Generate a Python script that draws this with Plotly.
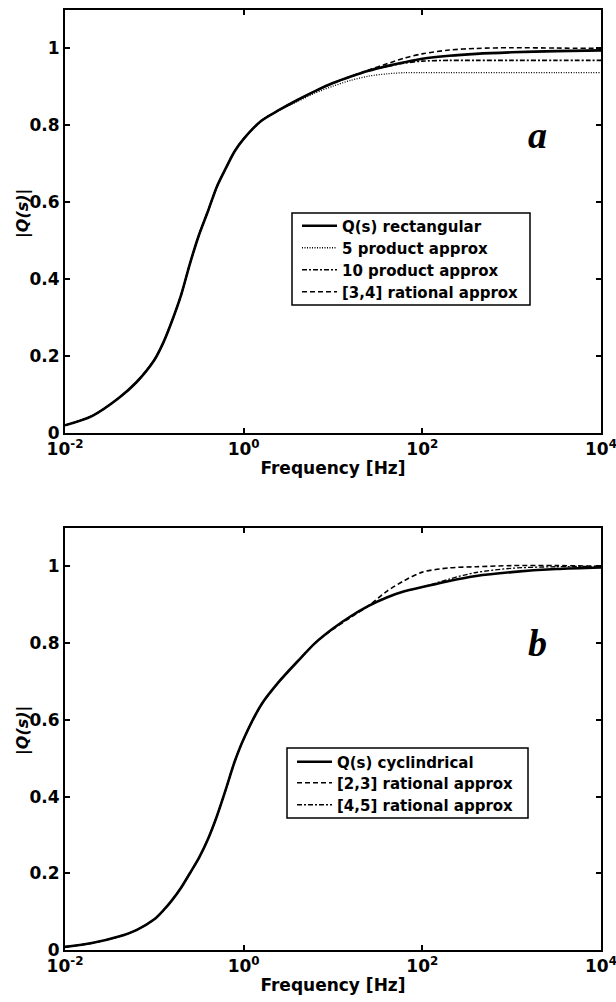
import plotly.graph_objects as go

# Frequencies [Hz] (shared grid, log spaced)
freq = [0.01, 0.02, 0.04, 0.063, 0.1, 0.126, 0.158, 0.2, 0.25, 0.316,
        0.4, 0.5, 0.63, 0.79, 1.0, 1.58, 2.5, 4.0, 6.3, 10.0,
        15.8, 25.0, 40.0, 63.0, 100.0, 200.0, 400.0, 1000.0, 3160.0, 10000.0]

# Panel a
q_rect = [0.020, 0.044, 0.091, 0.132, 0.190, 0.235, 0.292, 0.360, 0.440, 0.515,
          0.578, 0.640, 0.688, 0.732, 0.765, 0.812, 0.840, 0.866, 0.889, 0.910,
          0.927, 0.942, 0.954, 0.964, 0.973, 0.981, 0.986, 0.990, 0.993, 0.995]
prod5 = [0.020, 0.044, 0.091, 0.132, 0.190, 0.235, 0.292, 0.360, 0.440, 0.515,
         0.578, 0.640, 0.688, 0.732, 0.765, 0.812, 0.840, 0.862, 0.884, 0.902,
         0.917, 0.928, 0.934, 0.937, 0.937, 0.937, 0.937, 0.937, 0.937, 0.937]
prod10 = [0.020, 0.044, 0.091, 0.132, 0.190, 0.235, 0.292, 0.360, 0.440, 0.515,
          0.578, 0.640, 0.688, 0.732, 0.765, 0.812, 0.840, 0.866, 0.889, 0.910,
          0.927, 0.942, 0.953, 0.962, 0.967, 0.969, 0.969, 0.969, 0.969, 0.969]
rat34 = [0.020, 0.044, 0.091, 0.132, 0.190, 0.235, 0.292, 0.360, 0.440, 0.515,
         0.578, 0.640, 0.688, 0.732, 0.765, 0.812, 0.840, 0.866, 0.889, 0.910,
         0.927, 0.944, 0.960, 0.975, 0.986, 0.996, 1.000, 1.002, 1.001, 1.000]

# Panel b
q_cyl = [0.008, 0.018, 0.035, 0.052, 0.080, 0.103, 0.130, 0.163, 0.200, 0.240,
         0.290, 0.348, 0.418, 0.490, 0.550, 0.640, 0.700, 0.752, 0.800, 0.838,
         0.870, 0.897, 0.919, 0.935, 0.946, 0.962, 0.975, 0.985, 0.993, 0.997]
rat23 = [0.008, 0.018, 0.035, 0.052, 0.080, 0.103, 0.130, 0.163, 0.200, 0.240,
         0.290, 0.348, 0.418, 0.490, 0.550, 0.640, 0.700, 0.752, 0.800, 0.836,
         0.867, 0.897, 0.935, 0.963, 0.985, 0.996, 0.999, 1.002, 1.002, 1.000]
rat45 = [0.008, 0.018, 0.035, 0.052, 0.080, 0.103, 0.130, 0.163, 0.200, 0.240,
         0.290, 0.348, 0.418, 0.490, 0.550, 0.640, 0.700, 0.752, 0.800, 0.838,
         0.870, 0.897, 0.919, 0.935, 0.946, 0.967, 0.984, 0.995, 0.999, 1.000]

x_tickvals = [0.01, 1, 100, 10000]
x_ticktext = ["10<sup>-2</sup>", "10<sup>0</sup>", "10<sup>2</sup>", "10<sup>4</sup>"]
y_tickvals = [0, 0.2, 0.4, 0.6, 0.8, 1]
y_ticktext = ["0", "0.2", "0.4", "0.6", "0.8", "1"]

FONT = "DejaVu Sans"
W, H = 616, 1002

def px(xp):
    return xp / W

def py(yp):
    return 1 - yp / H

fig = go.Figure()

def add(x, y, name, dash, width, xa, ya, legend):
    fig.add_trace(go.Scatter(
        x=x, y=y, name=name, mode="lines",
        line=dict(color="black", width=width, dash=dash, shape="spline", smoothing=0.8),
        xaxis=xa, yaxis=ya, legend=legend))

add(freq, q_rect, "Q(s) rectangular", "solid", 2.6, "x", "y", "legend")
add(freq, prod5, "5 product approx", "1px,1.5px", 1.3, "x", "y", "legend2")
add(freq, prod10, "10 product approx", "5px,2px,2px,2px", 1.6, "x", "y", "legend3")
add(freq, rat34, "[3,4] rational approx", "5px,3px", 1.6, "x", "y", "legend4")

add(freq, q_cyl, "Q(s) cyclindrical", "solid", 2.6, "x2", "y2", "legend5")
add(freq, rat23, "[2,3] rational approx", "5px,3px", 1.6, "x2", "y2", "legend6")
add(freq, rat45, "[4,5] rational approx", "5px,2px,2px,2px", 1.3, "x2", "y2", "legend7")

xdom = [px(65), px(601)]
top_dom = [py(433), py(10)]
bot_dom = [py(950), py(528)]

tickfont = dict(family=FONT, size=17, color="black", weight="bold")

def xaxis(anchor):
    return dict(type="log", range=[-2, 4], domain=xdom, anchor=anchor,
                tickvals=x_tickvals, ticktext=x_ticktext, ticks="inside",
                ticklen=5, tickwidth=2, tickcolor="black", showline=True,
                linecolor="black", linewidth=2, mirror="ticks", showgrid=False,
                zeroline=False, tickfont=tickfont, automargin=False,
                ticklabeloverflow="allow",
                title=dict(text="Frequency [Hz]", standoff=4,
                           font=dict(family=FONT, size=17, color="black", weight="bold")))

def yaxis(dom, anchor):
    return dict(range=[0, 1.1], domain=dom, anchor=anchor,
                tickvals=y_tickvals, ticktext=y_ticktext, ticks="inside",
                ticklen=5, tickwidth=2, tickcolor="black", showline=True,
                linecolor="black", linewidth=2, mirror="ticks", showgrid=False,
                zeroline=False, tickfont=tickfont, automargin=False,
                ticklabeloverflow="allow")

legfont = dict(family=FONT, size=15, color="black", weight="bold")

def leg(x_line_start, y_center):
    return dict(x=px(x_line_start - 6), y=py(y_center), xanchor="left", yanchor="middle",
                bordercolor="black", borderwidth=0, bgcolor="rgba(0,0,0,0)",
                font=legfont, itemwidth=35)

top_centers = [226, 248, 270, 292]
bot_centers = [762, 783, 805]

layout_legends = {}
for n, c in zip(["legend", "legend2", "legend3", "legend4"], top_centers):
    layout_legends[n] = leg(303, c)
for n, c in zip(["legend5", "legend6", "legend7"], bot_centers):
    layout_legends[n] = leg(298, c)

ytitle_font = dict(family=FONT, size=16, color="black", weight="bold", style="italic")

fig.update_layout(
    width=W, height=H,
    margin=dict(l=0, r=0, t=0, b=0),
    paper_bgcolor="white", plot_bgcolor="white",
    xaxis=xaxis("y"), yaxis=yaxis(top_dom, "x"),
    xaxis2=xaxis("y2"), yaxis2=yaxis(bot_dom, "x2"),
    shapes=[
        dict(type="rect", xref="paper", yref="paper", x0=px(292), x1=px(530),
             y0=py(305), y1=py(213), line=dict(color="black", width=1.5),
             fillcolor="white", layer="above"),
        dict(type="rect", xref="paper", yref="paper", x0=px(287), x1=px(528),
             y0=py(818), y1=py(748), line=dict(color="black", width=1.5),
             fillcolor="white", layer="above"),
    ],
    annotations=[
        dict(text="|Q(s)|", x=px(23), y=py(214), xref="paper", yref="paper",
             showarrow=False, textangle=-90, xanchor="center", yanchor="middle",
             font=ytitle_font),
        dict(text="|Q(s)|", x=px(23), y=py(731), xref="paper", yref="paper",
             showarrow=False, textangle=-90, xanchor="center", yanchor="middle",
             font=ytitle_font),
        dict(text="<b><i>a</i></b>", x=3.284, y=0.774, xref="x", yref="y",
             showarrow=False, xanchor="center", yanchor="middle",
             font=dict(family="Liberation Serif", size=38, color="black")),
        dict(text="<b><i>b</i></b>", x=3.284, y=0.80, xref="x2", yref="y2",
             showarrow=False, xanchor="center", yanchor="middle",
             font=dict(family="Liberation Serif", size=38, color="black")),
    ],
    showlegend=True,
    **layout_legends,
)

fig.write_html("out.html", config={"displayModeBar": False},
               post_script="document.body.style.margin='0px';")
